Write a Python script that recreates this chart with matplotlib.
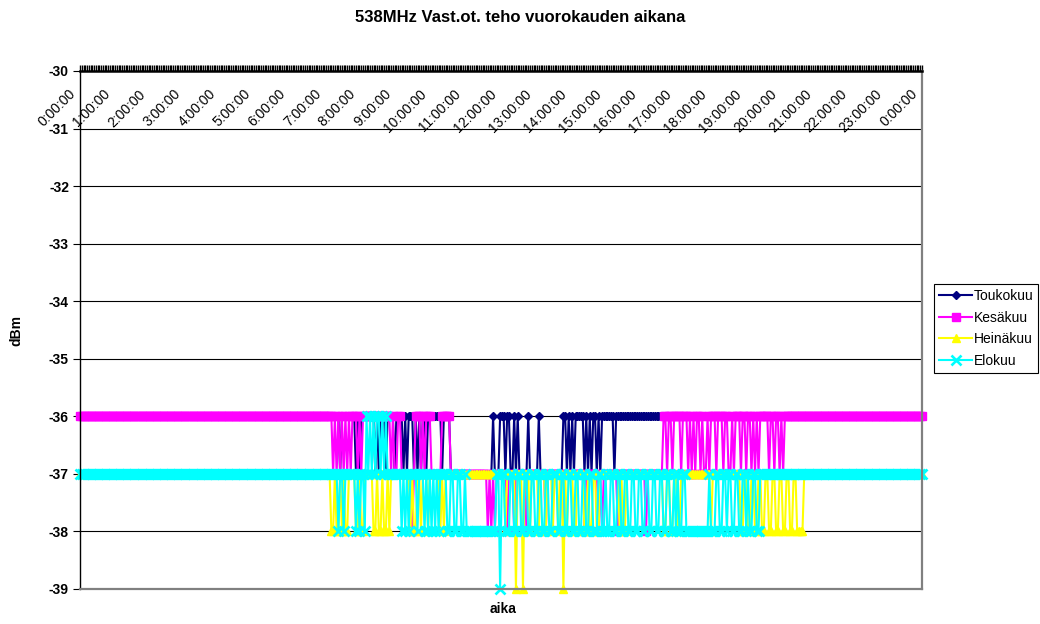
import matplotlib
matplotlib.use("Agg")
import matplotlib.pyplot as plt
import matplotlib.transforms as mtransforms
import numpy as np

plt.rcParams['font.family'] = ['Liberation Sans', 'DejaVu Sans']
plt.rcParams['axes.unicode_minus'] = False

TITLE = "538MHz Vast.ot. teho vuorokauden aikana"
X_LABEL = "aika"
Y_LABEL = "dBm"
SERIES_NAMES = ["Toukokuu", "Kesäkuu", "Heinäkuu", "Elokuu"]
HOUR_LABELS = ["0:00:00", "1:00:00", "2:00:00", "3:00:00", "4:00:00",
               "5:00:00", "6:00:00", "7:00:00", "8:00:00", "9:00:00",
               "10:00:00", "11:00:00", "12:00:00", "13:00:00", "14:00:00",
               "15:00:00", "16:00:00", "17:00:00", "18:00:00", "19:00:00",
               "20:00:00", "21:00:00", "22:00:00", "23:00:00", "0:00:00"]
Y_TICKS = [-39, -38, -37, -36, -35, -34, -33, -32, -31, -30]
Y_TICK_LABELS = ["-39", "-38", "-37", "-36", "-35", "-34", "-33", "-32", "-31", "-30"]

# Received power, one digit per 3-minute sample: digit d means -(30 + d) dBm.
# Each row is three hours (60 samples).
TOUKOKUU = [
    "6666666666 6666666666 6666666666 6666666666 6666666666 6666666666",
    "6666666666 6666666666 6666666666 6666666666 6666666666 6666666666",
    "6666666666 6666666666 6666666676 6666666767 6666666676 7666766667",
    "6666767666 7676766766 6666667666 6777777777 7777777777 7777767776",
    "6676677676 7777767777 7677777777 7777766767 6766666767 6766767666",
    "6666766666 6666666666 6666666666 6666666666 6666666666 6666666666",
    "6666666666 6666666666 6666666666 6666666666 6666666666 6666666666",
    "6666666666 6666666666 6666666666 6666666666 6666666666 6666666666",
]
KESAKUU = [
    "6666666666 6666666666 6666666666 6666666666 6666666666 6666666666",
    "6666666666 6666666666 6666666666 6666666666 6666666666 6666666666",
    "6666666666 6666666666 6666767676 7676766676 7666666666 6666666767",
    "7667777778 7666767666 7777776666 6777777777 7777777777 7787878777",
    "7778777877 7777877777 7777787777 7777787777 7777777877 7777787877",
    "7777778777 7777777777 7787777777 7766766766 6676667676 7667677676",
    "6676667667 7676667667 6676767666 6676676676 7666666666 6666666666",
    "6666666666 6666666666 6666666666 6666666666 6666666666 6666666666",
]
HEINAKUU = [
    "7777777777 7777777777 7777777777 7777777777 7777777777 7777777777",
    "7777777777 7777777777 7777777777 7777777777 7777777777 7777777777",
    "7777777777 7777777777 7778878878 7887777887 8877777887 8878878777",
    "7777777787 8877877787 7777787877 7777777777 7777777777 7777777777",
    "7787777797 7797778777 7877787778 7787797877 7887777887 8877887777",
    "7777777878 8777777777 7777777777 7788778877 8877777777 7777777778",
    "7777777777 7777778877 8877887788 7788778877 8877887788 8877777777",
    "7777777777 7777777777 7777777777 7777777777 7777777777 7777777777",
]
ELOKUU = [
    "7777777777 7777777777 7777777777 7777777777 7777777777 7777777777",
    "7777777777 7777777777 7777777777 7777777777 7777777777 7777777777",
    "7777777777 7777777777 7777777877 8777777878 7786767676 6767677777",
    "7778787877 7787778787 8787877778 8778877887 8888888888 8888888779",
    "7788877887 7887788778 8778877887 7788778877 8877887788 7788877887",
    "8877887788 7788778877 8877887788 7788778878 7887788888 8888888878",
    "8877887787 7887788778 7887788777 7777777777 7777777777 7777777777",
    "7777777777 7777777777 7777777777 7777777777 7777777777 7777777777",
]

COLORS = ["#000080", "#FF00FF", "#FFFF00", "#00FFFF"]


def decode(rows):
    digits = "".join("".join(rows).split())
    return np.array([-(30 + int(c)) for c in digits], dtype=float)


series = [decode(s) for s in (TOUKOKUU, KESAKUU, HEINAKUU, ELOKUU)]
n = len(series[0])
for name, vals in zip(SERIES_NAMES, series):
    if len(vals) != n:
        raise ValueError(f"{name}: {len(vals)} samples, expected {n}")
x = np.arange(n)

fig = plt.figure(figsize=(10.4, 6.24), dpi=100)
ax = fig.add_axes([80 / 1040, 35 / 624, 842 / 1040, 518 / 624])

# horizontal gridlines
for y in Y_TICKS[1:-1]:
    ax.axhline(y, color="black", lw=0.8, zorder=0.5)

marker_styles = [
    dict(marker="D", ms=4.3, mew=1.0),
    dict(marker="s", ms=6.0, mew=1.0),
    dict(marker="^", ms=6.3, mew=1.0),
    dict(marker="x", ms=6.6, mew=1.9),
]
handles = []
for name, vals, col, mk in zip(SERIES_NAMES, series, COLORS, marker_styles):
    (ln,) = ax.plot(x, vals, color=col, lw=1.5, mec=col, mfc=col,
                    label=name, clip_on=False, zorder=2, **mk)
    handles.append(ln)

ax.set_xlim(0, n - 1)
ax.set_ylim(-39, -30)

# category axis along the top with a tick for every sample
ax.xaxis.set_ticks_position("top")
ax.set_xticks(x)
ax.set_xticklabels([])
ax.tick_params(axis="x", which="major", direction="out", length=4,
               width=1.0, color="black")

ax.set_yticks(Y_TICKS)
ax.set_yticklabels(Y_TICK_LABELS, fontweight="bold", fontsize=10)
ax.tick_params(axis="y", direction="out", length=5, width=0.8, pad=3)

ax.spines["left"].set_color("black")
ax.spines["left"].set_linewidth(1.0)
ax.spines["top"].set_color("black")
ax.spines["top"].set_linewidth(1.8)
ax.spines["bottom"].set_color("#808080")
ax.spines["bottom"].set_linewidth(1.6)
ax.spines["right"].set_color("#808080")
ax.spines["right"].set_linewidth(1.6)

# hour labels hanging just below the top axis
trans = mtransforms.blended_transform_factory(ax.transData, ax.transAxes) + \
    mtransforms.ScaledTranslation(-2 / 100, -16 / 100, fig.dpi_scale_trans)
for h, lab in enumerate(HOUR_LABELS):
    ax.text(h * (n - 1) / 24, 1.0, lab, transform=trans, rotation=45,
            ha="right", va="top", fontsize=10, clip_on=False)

fig.text(0.5, 1 - 17 / 624, TITLE, ha="center", va="center",
         fontsize=12, fontweight="bold")
fig.text(16 / 1040, 1 - 330 / 624, Y_LABEL, rotation=90, ha="center",
         va="center", fontsize=10, fontweight="bold")
fig.text(503 / 1040, 1 - 609 / 624, X_LABEL, ha="center", va="center",
         fontsize=10, fontweight="bold")

leg = fig.legend(handles, SERIES_NAMES, loc="upper left",
                 bbox_to_anchor=(934 / 1040, 1 - 284 / 624), frameon=True,
                 fancybox=False, edgecolor="black", framealpha=1, fontsize=10,
                 handlelength=2.4, handletextpad=0.1, labelspacing=0.55,
                 borderpad=0.35, borderaxespad=0)
leg.get_frame().set_linewidth(0.8)

fig.savefig("out.png", dpi=100)
